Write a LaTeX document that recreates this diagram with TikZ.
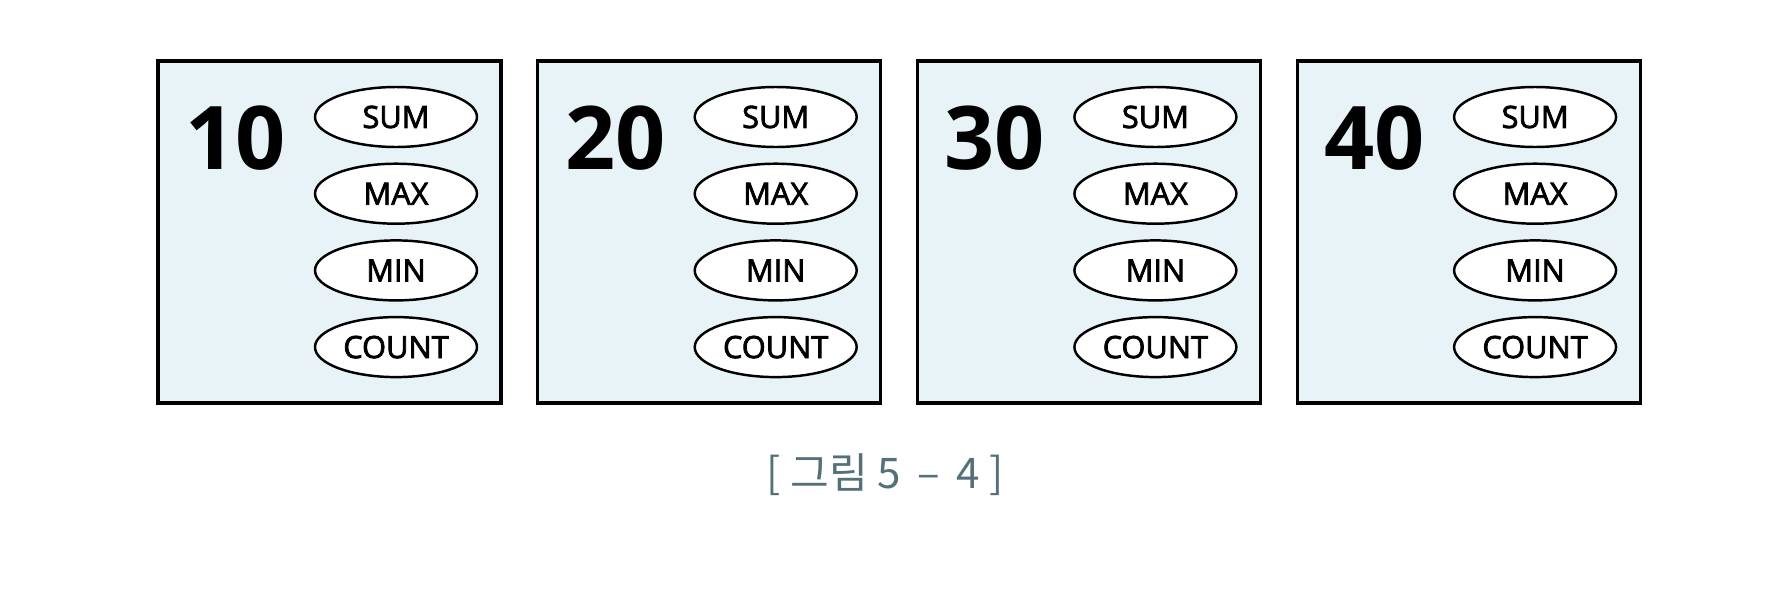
\documentclass[tikz,border=0pt]{standalone}
\usepackage{fontspec}
\setmainfont{Open Sans}
\newfontfamily\labelfont[FakeBold=2.5]{Open Sans}
\newfontfamily\capfont{Noto Sans CJK KR}
\usetikzlibrary{shapes.geometric, calc}
\definecolor{panelfill}{HTML}{E7F3F6}
\definecolor{captiongray}{HTML}{56707A}
\tikzset{
  panel/.style={draw, line width=1.8pt, fill=panelfill, minimum width=6.86cm, minimum height=6.84cm, inner sep=0pt},
  func/.style={draw, ellipse, line width=1.4pt, fill=white, minimum width=3.24cm, minimum height=1.2cm, inner sep=0pt, font=\labelfont\fontsize{17.5}{20}\selectfont},
  value/.style={font=\fontsize{50}{56}\selectfont\bfseries, inner sep=0pt}
}
\begin{document}
\begin{tikzpicture}[x=0.02cm, y=-0.02cm]
  \useasboundingbox (0,0) rectangle (1786,592);

  \foreach \v [count=\n] in {10,20,30,40} {
    % Panel with its value
    \node[panel] (panel\n) at ({329.5+379.7*(\n-1)}, 232) {};
    \node[value] (val\n) at ($(panel\n.center)+(-94,-94)$) {\v};

    % Aggregate functions
    \foreach \f [count=\m] in {SUM,MAX,MIN,COUNT} {
      \node[func] (f\n\m) at ({396+379.7*(\n-1)}, {117+76.7*(\m-1)}) {\f};
    }
  }

  % Caption
  \node[text=captiongray, font=\capfont\fontsize{24}{28}\selectfont] (caption) at (885,475) {[ 그림 5\, –\, 4 ]};
\end{tikzpicture}
\end{document}
